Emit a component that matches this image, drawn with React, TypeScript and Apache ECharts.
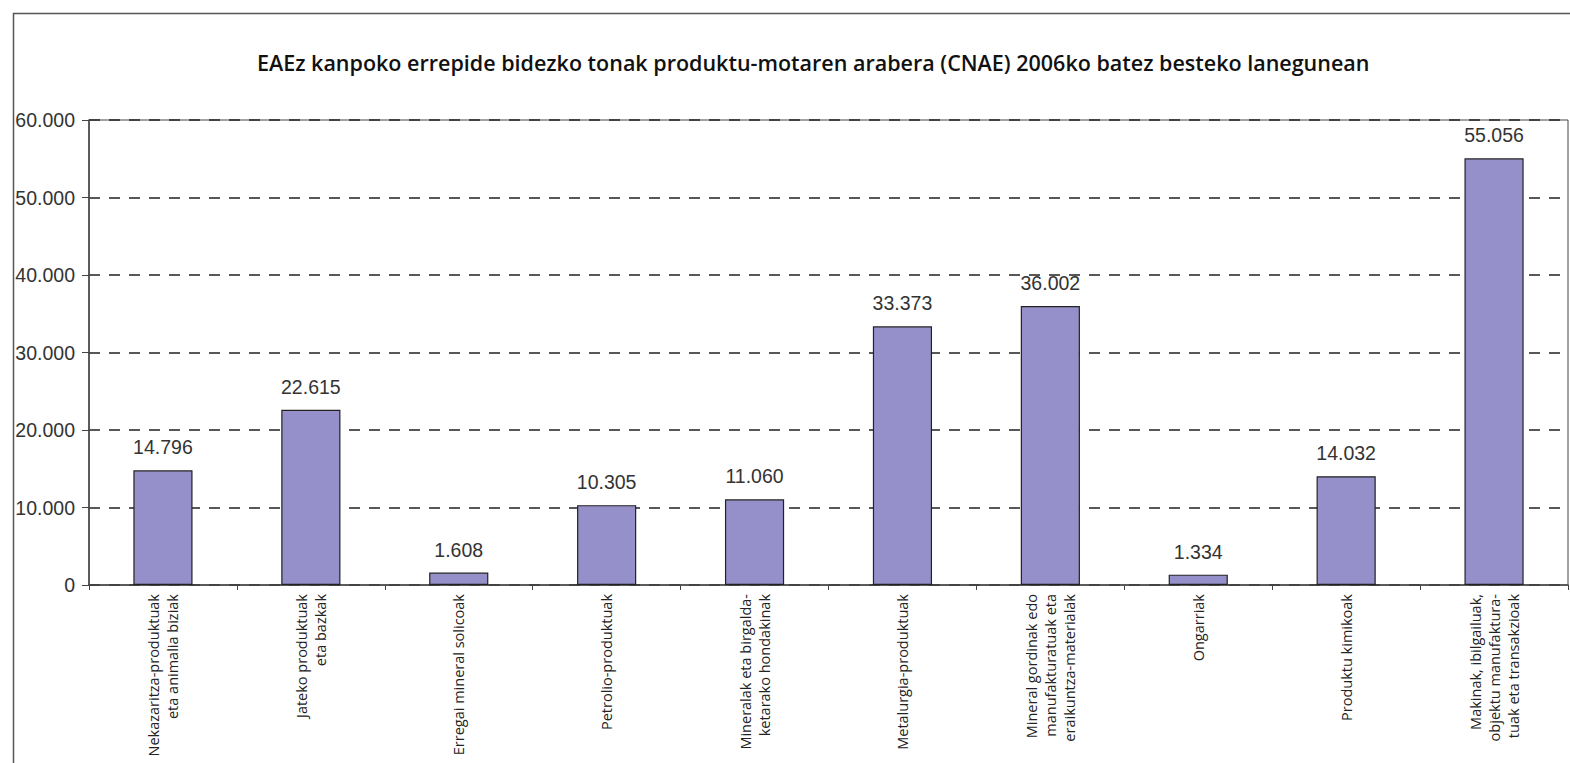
import React, { useEffect, useRef } from "react";
import * as echarts from "echarts";

const titleText =
  "EAEz kanpoko errepide bidezko tonak produktu-motaren arabera (CNAE) 2006ko batez besteko lanegunean";

const categories = [
  "Nekazaritza-produktuak\neta animalia biziak",
  "Jateko produktuak\neta bazkak",
  "Erregai mineral solicoak",
  "Petrolio-produktuak",
  "Mineralak eta birgalda-\nketarako hondakinak",
  "Metalurgia-produktuak",
  "Mineral gordinak edo\nmanufakturatuak eta\neraikuntza-materialak",
  "Ongarriak",
  "Produktu kimikoak",
  "Makinak, ibilgailuak,\nobjektu manufaktura-\ntuak eta transakzioak",
];

const tonnes = [14796, 22615, 1608, 10305, 11060, 33373, 36002, 1334, 14032, 55056];

const yMin = 0;
const yMax = 60000;
const yStep = 10000;

const fmt = (v: number) => String(Math.round(v)).replace(/\B(?=(\d{3})+(?!\d))/g, ".");

export default function App() {
  const ref = useRef<HTMLDivElement>(null);

  useEffect(() => {
    if (!ref.current) return;
    const chart = echarts.init(ref.current, null, { renderer: "svg" });
    chart.setOption({
      animation: false,
      backgroundColor: "#ffffff",
      title: {
        text: titleText,
        left: 252,
        top: 46,
        textStyle: {
          fontFamily: "Open Sans",
          fontWeight: 600,
          fontSize: 21.5,
          color: "#111",
        },
      },
      graphic: [
        {
          type: "rect",
          left: 11,
          top: 11,
          shape: { width: 1600, height: 800 },
          style: { fill: "none", stroke: "#555", lineWidth: 1.5 },
          silent: true,
          z: -1,
        },
      ],
      grid: {
        left: 89,
        right: 2,
        top: 120,
        bottom: 178,
        outerBoundsMode: "none",
        show: true,
        borderColor: "#444",
        borderWidth: 1,
        backgroundColor: "transparent",
      },
      xAxis: {
        type: "category",
        data: categories,
        axisLine: { lineStyle: { color: "#444", width: 1.5 } },
        axisTick: { show: true, length: 5, lineStyle: { color: "#444" } },
        axisLabel: {
          rotate: 90,
          interval: 0,
          margin: 9,
          fontFamily: "Open Sans",
          fontSize: 14.5,
          lineHeight: 19,
          color: "#222",
        },
      },
      yAxis: {
        type: "value",
        min: yMin,
        max: yMax,
        interval: yStep,
        axisLine: { show: true, lineStyle: { color: "#444", width: 1.5 } },
        axisTick: { show: true, length: 7, lineStyle: { color: "#444" } },
        axisLabel: {
          fontFamily: "Arial, Liberation Sans",
          fontSize: 19.5,
          color: "#333",
          margin: 14,
          formatter: (v: number) => fmt(v),
        },
        splitLine: {
          show: true,
          lineStyle: { color: "#222", type: [11, 9], width: 1.5 },
        },
      },
      series: [
        {
          type: "bar",
          data: tonnes,
          barWidth: "40%",
          itemStyle: { color: "#9590C9", borderColor: "#222", borderWidth: 1.2 },
          label: {
            show: true,
            position: "top",
            distance: 13,
            fontFamily: "Arial, Liberation Sans",
            fontSize: 19.5,
            color: "#333",
            formatter: (p: any) => fmt(p.value),
          },
        },
      ],
    });
    return () => chart.dispose();
  }, []);

  return (
    <div
      ref={ref}
      style={{ position: "fixed", left: 0, top: 0, width: 1570, height: 763 }}
    />
  );
}
